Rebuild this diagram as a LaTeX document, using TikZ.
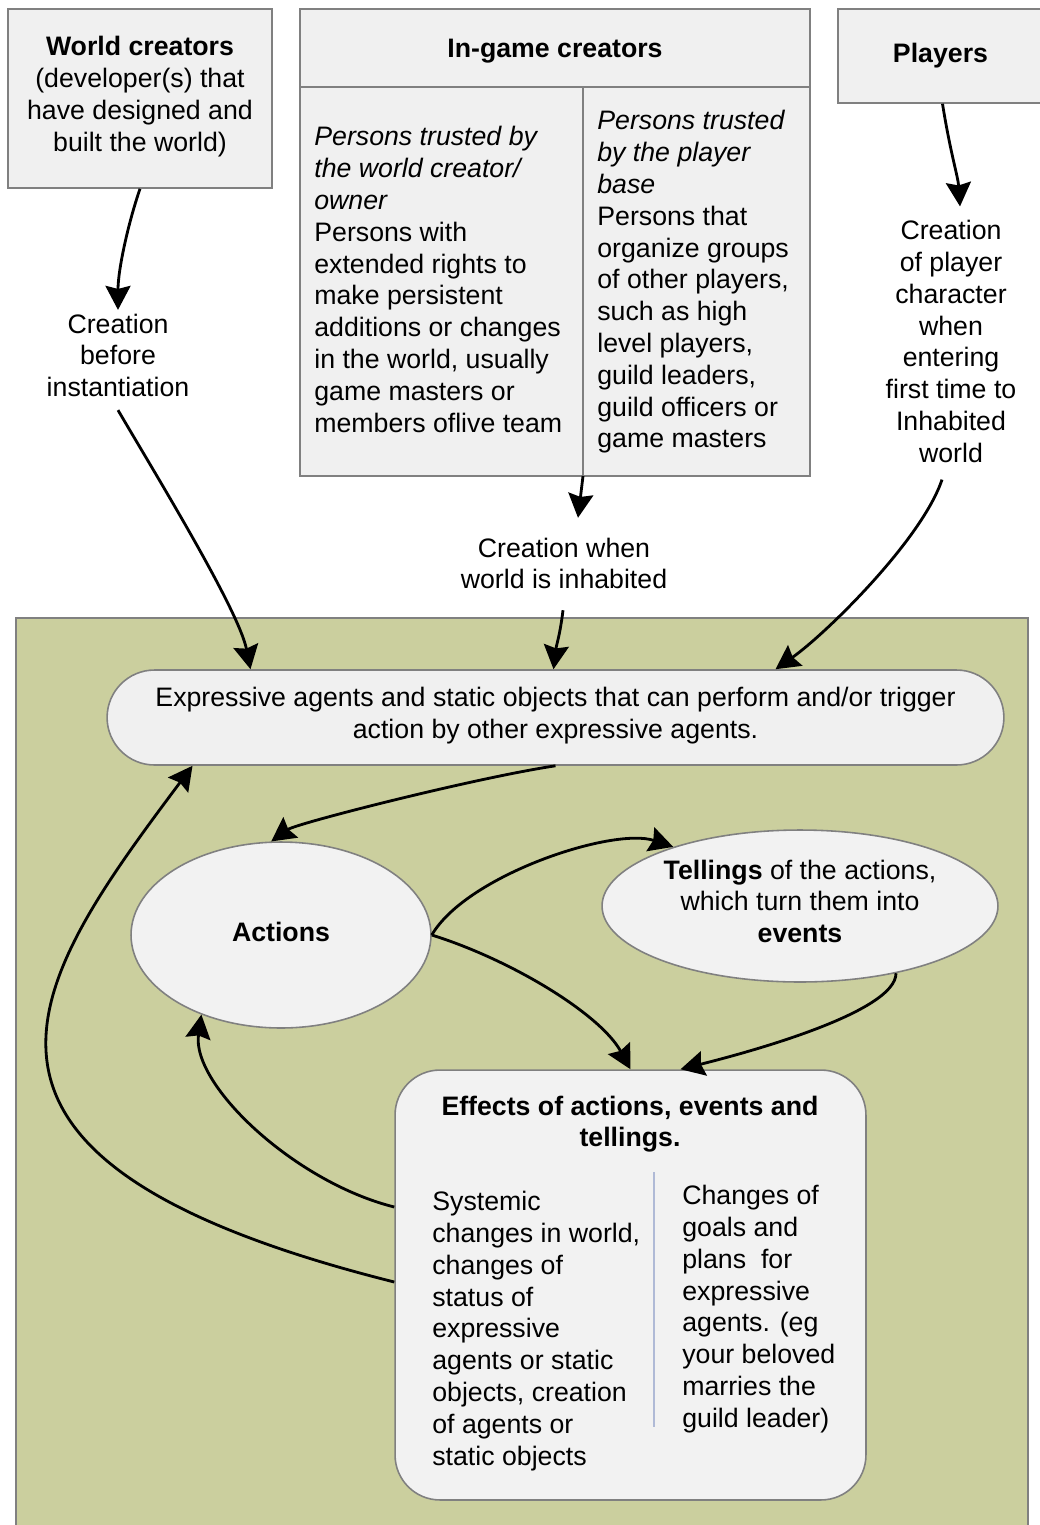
\documentclass[tikz,border=0pt]{standalone}
\usepackage{fontspec}
\setmainfont{Liberation Sans}
\usetikzlibrary{shapes.geometric,arrows.meta,calc}
\definecolor{worldgreen}{RGB}{203,207,158}
\definecolor{boxgray}{RGB}{240,240,240}
\definecolor{bubblegray}{RGB}{242,242,242}
\definecolor{edgegray}{RGB}{128,128,128}
\definecolor{splitblue}{RGB}{176,186,214}
\tikzset{
  txt/.style={inner sep=0pt,font=\fontsize{15.2}{18.1}\selectfont,
    execute at begin node=\strut,execute at end node=\strut},
  box/.style={txt,rectangle,draw=edgegray,fill=boxgray,line width=0.9pt,align=center},
  bubble/.style={txt,ellipse,draw=edgegray,fill=bubblegray,line width=0.9pt,align=center},
  lbl/.style={txt,align=center,inner sep=2pt},
  col/.style={txt,align=left,anchor=west},
  rule/.style={draw=edgegray,line width=0.9pt},
  arr/.style={-{Stealth[length=0.48cm,width=0.5cm,inset=0.06cm]},line width=1.6pt}
}

\begin{document}
\begin{tikzpicture}[x=0.02cm,y=-0.02cm]
\useasboundingbox (0,0) rectangle (1039,1525);
% the inhabited world
\draw[draw=edgegray,fill=worldgreen,line width=1.2pt] (16,618) rectangle (1028,1560);

% creators
\node[box,minimum width=5.28cm,minimum height=3.58cm] (wc) at (140,98.5)
  {\textbf{World creators}\\(developer(s) that\\have designed and\\built the world)};
\node[box,minimum width=10.2cm,minimum height=9.34cm] (igc) at (555,242.5) {};
\draw[rule] ($(igc.north west)+(0,79)$) -- ($(igc.north east)+(0,79)$);
\coordinate (igcfoot) at (583,476);
\draw[rule] (583,88) -- (igcfoot);
\node[txt] (igchead) at (555,51) {\textbf{In-game creators}};
\node[col] (byowner) at (314,284)
  {\textit{Persons trusted by}\\\textit{the world creator/}\\\textit{owner}\\Persons with\\extended rights to\\make persistent\\additions or changes\\in the world, usually\\game masters or\\members oflive team};
\node[col] (bybase) at (597,284)
  {\textit{Persons trusted}\\\textit{by the player}\\\textit{base}\\Persons that\\organize groups\\of other players,\\such as high\\level players,\\guild leaders,\\guild officers or\\game masters};
\node[box,minimum width=4.1cm,minimum height=1.88cm] (players) at (940.5,56) {\textbf{Players}};

% ways of creation
\node[lbl] (bef) at (118,360) {Creation\\before\\instantiation};
\node[lbl] (when) at (564,568) {Creation when\\world is inhabited};
\node[lbl] (enter) at (951,346) {Creation\\of player\\character\\when\\entering\\first time to\\Inhabited\\world};

% inside the world
\node[box,minimum width=17.94cm,minimum height=1.9cm,rounded corners=0.95cm] (agents) at (555.5,717.5)
  {Expressive agents and static objects that can perform and/or trigger\\action by other expressive agents.};
\node[bubble,minimum width=6cm,minimum height=3.72cm] (actions) at (281,935) {\textbf{Actions}};
\node[bubble,minimum width=7.92cm,minimum height=3.04cm] (tellings) at (800,906)
  {\textbf{Tellings} of the actions,\\which turn them into\\\textbf{events}};
\node[box,fill=bubblegray,minimum width=9.42cm,minimum height=8.6cm,rounded corners=0.9cm] (effects) at (630.5,1285) {};
\node[txt,align=center] (effhead) at (630,1126) {\textbf{Effects of actions, events and}\\\textbf{tellings.}};
\node[col] (systemic) at (432,1333)
  {Systemic\\changes in world,\\changes of\\status of\\expressive\\agents or static\\objects, creation\\of agents or\\static objects};
\node[col] (goals) at (682,1311)
  {Changes of\\goals and\\plans\ \ for\\expressive\\agents. (eg\\your beloved\\marries the\\guild leader)};
\draw[splitblue,line width=1pt] (654,1172) -- (654,1427);

% arrows
\draw[arr] (wc.south) .. controls +(-12,35) and +(0,-40) .. (bef.north);
\draw[arr] (bef.south) .. controls +(35,60) and +(-12,-60) .. ($(agents.north)+(-305,0)$);
\draw[arr] (igcfoot) -- ($(when.north)+(14,-16)$);
\draw[arr] ($(when.south)+(-1,8)$) .. controls +(-3,25) and +(3,-25) .. ($(agents.north)+(-2,0)$);
\draw[arr] ($(players.south)+(2,0)$) .. controls +(8,50) and +(-2,-30) .. ($(enter.north)+(9,-10)$);
\draw[arr] ($(enter.south)+(-9,4)$) .. controls +(-20,60) and +(50,-35) .. ($(agents.north)+(220,0)$);
\draw[arr] (agents.south) .. controls +(-80,12) and +(25,-18) .. (actions.96);
\draw[arr] (actions.east) .. controls +(35,-60) and +(-60,-20) .. (tellings.155);
\draw[arr] (actions.east) .. controls +(80,25) and +(-30,-55) .. (effects.north);
\draw[arr] (tellings.-35) .. controls +(0,40) and +(60,-15) .. ($(effects.north)+(50,0)$);
\draw[arr] ($(effects.west)+(0,-78)$) .. controls +(-100,-25) and +(-10,70) .. (actions.-135);
\draw[arr] ($(effects.west)+(0,-3)$) .. controls +(-490,-123) and +(-163,218) .. ($(agents.south)+(-363,0)$);
\end{tikzpicture}
\end{document}
